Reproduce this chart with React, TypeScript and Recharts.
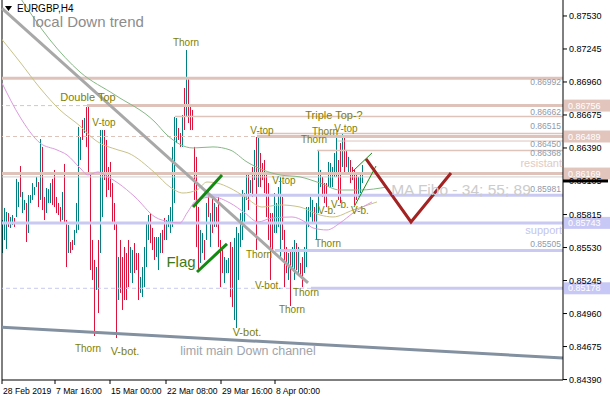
import React from 'react';
import { ComposedChart, Bar, Line, XAxis, YAxis, ReferenceLine, ReferenceDot } from 'recharts';

const FONT = '"Liberation Sans", Arial, sans-serif';
const TEAL = '#008080';
const RED = '#dc143c';
const RES = '#dfc3bb';
const SUP = '#c9c9f2';

// EURGBP H4 bars, oldest first
const highs = [
  0.85768, 0.85872, 0.85837, 0.85828, 0.85794, 0.85811, 0.85785, 0.86123, 0.86096, 0.86234,
  0.86010, 0.85941, 0.85915, 0.85984, 0.85984, 0.86087, 0.86053, 0.86140, 0.86096, 0.86467,
  0.86399, 0.85967, 0.86044, 0.86035, 0.86087, 0.86123, 0.86200, 0.85967, 0.85915, 0.85880,
  0.86010, 0.86252, 0.85768, 0.85725, 0.85578, 0.85595, 0.85682, 0.85915, 0.86572, 0.86485,
  0.86632, 0.86649, 0.86744, 0.86744, 0.86174, 0.85595, 0.85423, 0.85362, 0.85595, 0.86545,
  0.86545, 0.86545, 0.86459, 0.86226, 0.86269, 0.86087, 0.85915, 0.85742, 0.85448, 0.85595,
  0.85448, 0.85535, 0.85483, 0.85595, 0.85535, 0.85509, 0.85569, 0.85483, 0.85483, 0.85276,
  0.85362, 0.85535, 0.85742, 0.85811, 0.85828, 0.85699, 0.85621, 0.85621, 0.85621, 0.85656,
  0.85682, 0.85785, 0.85768, 0.85811, 0.85880, 0.86399, 0.86658, 0.86649, 0.86563, 0.86519,
  0.86675, 0.86908, 0.87236, 0.87003, 0.86744, 0.86718, 0.86399, 0.86313, 0.85880, 0.85682,
  0.85656, 0.85595, 0.85915, 0.86027, 0.85828, 0.85967, 0.85915, 0.85880, 0.85967, 0.85595,
  0.85509, 0.85448, 0.85423, 0.85440, 0.85578, 0.85535, 0.85613, 0.85708, 0.85656, 0.85828,
  0.86027, 0.86001, 0.86174, 0.86174, 0.86113, 0.86226, 0.86373, 0.86485, 0.86485, 0.86347,
  0.86260, 0.86286, 0.86174, 0.86087, 0.85828, 0.85828, 0.86001, 0.85915, 0.86053, 0.86140,
  0.85967, 0.85682, 0.85535, 0.85483, 0.85509, 0.85535, 0.85595, 0.85569, 0.85535, 0.85397,
  0.85448, 0.85535, 0.85880, 0.85880, 0.85967, 0.85941, 0.85880, 0.85915, 0.86373, 0.86200,
  0.86140, 0.86087, 0.86087, 0.86269, 0.86260, 0.86226, 0.86347, 0.86485, 0.86286, 0.86433,
  0.86519, 0.86485, 0.86373, 0.86313, 0.86286, 0.86226, 0.86200, 0.86174, 0.86140, 0.86174,
  0.86243,
];
const lows = [
  0.85483, 0.85595, 0.85518, 0.85708, 0.85699, 0.85725, 0.85708, 0.85794, 0.85880, 0.85967,
  0.85828, 0.85854, 0.85578, 0.85656, 0.85915, 0.85941, 0.85984, 0.86053, 0.85880, 0.85941,
  0.85854, 0.85768, 0.85828, 0.85915, 0.85915, 0.85898, 0.85880, 0.85828, 0.85811, 0.85751,
  0.85768, 0.85751, 0.85362, 0.85483, 0.85483, 0.85509, 0.85552, 0.85656, 0.85682, 0.86286,
  0.86459, 0.86519, 0.86399, 0.86174, 0.85336, 0.85250, 0.84766, 0.85164, 0.84965, 0.85483,
  0.85794, 0.86113, 0.85967, 0.86027, 0.85967, 0.85742, 0.85682, 0.84749, 0.85077, 0.85138,
  0.84991, 0.85077, 0.85077, 0.85189, 0.85310, 0.85224, 0.85310, 0.85336, 0.85077, 0.85138,
  0.85103, 0.85189, 0.85362, 0.85595, 0.85569, 0.85509, 0.85423, 0.85448, 0.85336, 0.85483,
  0.85483, 0.85595, 0.85595, 0.85708, 0.85656, 0.85708, 0.85915, 0.86433, 0.86459, 0.86399,
  0.86399, 0.86545, 0.86658, 0.86606, 0.86545, 0.86545, 0.85941, 0.85535, 0.85336, 0.85397,
  0.85483, 0.85423, 0.85595, 0.85794, 0.85535, 0.85656, 0.85708, 0.85708, 0.85535, 0.85189,
  0.85310, 0.85224, 0.85310, 0.85310, 0.85103, 0.85017, 0.84904, 0.84835, 0.85250, 0.85535,
  0.85595, 0.85708, 0.85941, 0.85854, 0.86001, 0.85967, 0.86113, 0.85509, 0.86053, 0.86053,
  0.86113, 0.86001, 0.85794, 0.85595, 0.85250, 0.85483, 0.85656, 0.85656, 0.85708, 0.85448,
  0.85595, 0.85189, 0.85310, 0.85250, 0.85025, 0.85362, 0.85250, 0.85336, 0.85310, 0.85276,
  0.85189, 0.85310, 0.85362, 0.85708, 0.85794, 0.85742, 0.85742, 0.85595, 0.85828, 0.86053,
  0.85967, 0.85915, 0.85880, 0.86053, 0.86053, 0.86053, 0.86140, 0.86140, 0.85941, 0.85915,
  0.86226, 0.86174, 0.86226, 0.86174, 0.86087, 0.86113, 0.85898, 0.85941, 0.85967, 0.86001,
  0.86087,
];
// u = bull bar, d = bear bar
const dirs =
  'uuuduuduud' + 'uuduuuuudu' + 'dduuuddddd' + 'uddudduuuu' + 'dudddddudu' +
  'udddddddud' + 'dddduudddu' + 'uuuuddduuu' + 'dduuuuuudd' + 'ududdddddu' +
  'ududududdd' + 'duuudduuuu' + 'uuudududud' + 'dddddduuuu' + 'ddduduudud' +
  'duuuuuduuu' + 'ddduuuuudd' + 'uddudddduuu';

// moving averages (bar index, price)
const ma89 = [
  [8, 0.87703], [23.5, 0.87323], [38.5, 0.87046], [56, 0.86848], [76, 0.86614], [82, 0.86502],
  [95, 0.8639], [105, 0.86399], [113.5, 0.86373], [122, 0.86269], [138.5, 0.86157], [148.5, 0.8614],
  [158.5, 0.86087], [168.5, 0.86027], [178.5, 0.86027], [192, 0.86053],
];
const ma55 = [
  [-1.5, 0.87348], [8.5, 0.87132], [18.5, 0.86908], [28.5, 0.86718], [38.5, 0.8658], [46, 0.86459],
  [57.5, 0.86373], [62.5, 0.86347], [76, 0.86174], [83.5, 0.86053], [90, 0.86001], [97, 0.86027],
  [102, 0.86096], [107, 0.86087], [113.5, 0.86044], [121, 0.85967], [129.5, 0.8588], [138.5, 0.85898],
  [148.5, 0.8588], [158.5, 0.85811], [165, 0.85794], [175, 0.85854], [187, 0.85924],
];
const ma34 = [
  [-0.5, 0.86951], [8.5, 0.86658], [18.5, 0.86433], [27, 0.86373], [32, 0.8633], [38.5, 0.86217],
  [42.5, 0.86157], [47.5, 0.86183], [52.5, 0.8614], [57.5, 0.86087], [66, 0.85967], [76, 0.85794],
  [83.5, 0.85751], [88.5, 0.85742], [92, 0.85828], [97, 0.85941], [105, 0.85967], [113.5, 0.85915],
  [121, 0.85828], [127.5, 0.85751], [134.5, 0.85785], [144.5, 0.85794], [151, 0.85751], [155, 0.85699],
  [162, 0.85682], [168.5, 0.85742], [175, 0.85828], [184.5, 0.85924],
];
const forecast = [[181.5, 0.86295], [204, 0.85751], [224, 0.86174]];

const Y_TICKS = [0.8753, 0.87245, 0.8696, 0.86675, 0.8639, 0.86105, 0.85815, 0.8553, 0.85245, 0.8496, 0.84675, 0.8439];
const X_TICKS = [-0.5, 26, 53.5, 81.5, 109, 136];
const X_LABELS = ['28 Feb 2019', '7 Mar 16:00', '15 Mar 00:00', '22 Mar 08:00', '29 Mar 16:00', '8 Apr 00:00'];

// horizontal levels: price, bar where the solid part starts, width, dashed guide across
const levels = [
  { p: 0.86992, from: -0.5, w: 3, c: RES },
  { p: 0.86756, from: 42, w: 3, c: RES, guide: true },
  { p: 0.86662, from: 86, w: 1.5, c: RES },
  { p: 0.86515, from: 127, w: 1.5, c: RES },
  { p: 0.86489, from: 127, w: 3, c: RES, guide: true },
  { p: 0.8645, from: 167, w: 1, c: RES },
  { p: 0.86368, from: 157, w: 1.5, c: RES },
  { p: 0.86169, from: -0.5, w: 3, c: RES },
  { p: 0.8614, from: -0.5, w: 1, c: '#cfcfcf' },
  { p: 0.85981, from: 100, w: 3, c: SUP },
  { p: 0.85743, from: -0.5, w: 3, c: SUP },
  { p: 0.85505, from: 136, w: 3, c: SUP },
  { p: 0.85178, from: 154, w: 3, c: SUP, guide: true },
];
const boxes = [
  { p: 0.86756, c: '#e2c6be' }, { p: 0.86489, c: '#e2c6be' }, { p: 0.86169, c: '#e2c6be' },
  { p: 0.85743, c: '#c8c8f6' }, { p: 0.85178, c: '#c8c8f6' },
];
// price tags written near the right edge, anchored just off their lines
const tags = [
  ['0.86992', 0.8696], ['0.86662', 0.86701], ['0.86515', 0.8658], ['0.86450', 0.86425],
  ['0.86368', 0.86347], ['0.85981', 0.86035], ['0.85505', 0.85561],
];

const OLIVE = '#7f7f00';
const notes = [
  { t: 'Thorn', i: 91.5, p: 0.87305 },
  { t: 'Double Top', i: 42.5, p: 0.8683, s: 11 },
  { t: 'V-top', i: 50.5, p: 0.86614 },
  { t: 'Thorn', i: 42.5, p: 0.84662 },
  { t: 'V-bot.', i: 61, p: 0.84637, s: 11 },
  { t: 'Flag', i: 89, p: 0.85405, s: 15, c: '#3c7a1a' },
  { t: 'V-top', i: 129.5, p: 0.86545 },
  { t: 'V-top', i: 140.5, p: 0.86113 },
  { t: 'Thorn', i: 128, p: 0.85466 },
  { t: 'V-bot.', i: 132.5, p: 0.85198 },
  { t: 'V-bot.', i: 122, p: 0.84801, s: 11 },
  { t: 'Thorn', i: 144.5, p: 0.84991 },
  { t: 'Thorn', i: 151.5, p: 0.85138 },
  { t: 'Thorn', i: 162.5, p: 0.85569 },
  { t: 'Thorn', i: 155.5, p: 0.86459 },
  { t: 'Thorn', i: 161, p: 0.86528 },
  { t: 'V-top', i: 171.5, p: 0.86554 },
  { t: 'Triple Top-?', i: 165.5, p: 0.86675, s: 11 },
  { t: 'V-b.', i: 162, p: 0.85854 },
  { t: 'V-b.', i: 168.5, p: 0.85898 },
  { t: 'V-b.', i: 178.5, p: 0.85854 },
  { t: 'local Down trend', i: 42.5, p: 0.87478, s: 15, c: '#8c8c8c' },
  { t: 'limit main Down channel', i: 122.5, p: 0.84637, s: 12.5, c: '#a0a4ac' },
  { t: 'MA Fibo - 34; 55; 89', i: 229, p: 0.86027, s: 15.5, c: '#cccccc' },
  { t: 'resistant', i: 279.5, p: 0.8626, s: 11, c: '#e2cac2', a: 'end' },
  { t: 'support', i: 279.5, p: 0.85682, s: 11, c: '#c4c4f0', a: 'end' },
];

const toPts = (arr: number[][]) => arr.map(([i, p]) => ({ i, p }));

const BarShape = (props: any) => {
  const { x, y, width, height, payload } = props;
  const cx = Math.round(x + width / 2 - 0.5);
  return <rect x={cx} y={y} width={1} height={Math.max(height, 1)} fill={payload.up ? TEAL : RED} />;
};

const DateTick = (props: any) => {
  const { x, y, index } = props;
  return (
    <text x={x + 1} y={y} dy={8} fontSize={8.6} fontFamily={FONT} fill="#000" textAnchor="start">
      {X_LABELS[index]}
    </text>
  );
};

export default function App() {
  const data = highs.map((h, i) => ({ i, range: [lows[i], h], up: dirs[i] === 'u' }));

  return (
    <div style={{ position: 'absolute', left: 0, top: 0, width: 610, height: 400, background: '#fff', fontFamily: FONT }}>
      <ComposedChart width={610} height={400} data={data} margin={{ top: 0, right: 0, bottom: 0, left: 2 }}>
        <XAxis dataKey="i" type="number" domain={[-0.5, 280]} allowDataOverflow ticks={X_TICKS} interval={0}
          height={20} stroke="#000" tickSize={4} tick={<DateTick />} />
        <YAxis orientation="right" type="number" domain={[0.84386, 0.87668]} allowDataOverflow ticks={Y_TICKS}
          interval={0} width={47} stroke="#000" tickSize={4} tickMargin={2}
          tickFormatter={(v: number) => v.toFixed(5)} tick={{ fontSize: 9, fill: '#000', fontFamily: FONT }} />

        <ReferenceLine x={-0.5} stroke="#000" />
        {levels.filter((l) => l.guide).map((l, k) => (
          <ReferenceLine key={'g' + k} y={l.p} stroke={l.c} strokeDasharray="4 3" />
        ))}
        {levels.map((l, k) => (
          <ReferenceLine key={'l' + k} segment={[{ x: l.from, y: l.p }, { x: 280, y: l.p }]} stroke={l.c} strokeWidth={l.w} />
        ))}

        <Line data={toPts(ma89)} dataKey="p" type="monotone" stroke="#86b886" dot={false} isAnimationActive={false} />
        <Line data={toPts(ma55)} dataKey="p" type="monotone" stroke="#c9c28a" dot={false} isAnimationActive={false} />
        <Line data={toPts(ma34)} dataKey="p" type="monotone" stroke="#dc9ade" dot={false} isAnimationActive={false} />

        <Bar dataKey="range" barSize={1} shape={<BarShape />} isAnimationActive={false} />

        <ReferenceLine segment={[{ x: -0.5, y: 0.87595 }, { x: 152.5, y: 0.85224 }]} stroke="#a8a8a8" strokeWidth={3} />
        <ReferenceLine segment={[{ x: -0.5, y: 0.84841 }, { x: 280, y: 0.84577 }]} stroke="#8390a0" strokeWidth={3} />
        <ReferenceLine segment={[{ x: 95, y: 0.8588 }, { x: 109.5, y: 0.86157 }]} stroke="#128a12" strokeWidth={3} />
        <ReferenceLine segment={[{ x: 97, y: 0.85319 }, { x: 112, y: 0.85561 }]} stroke="#128a12" strokeWidth={3} />
        <ReferenceLine segment={[{ x: 174.5, y: 0.86183 }, { x: 184.5, y: 0.86347 }]} stroke="#109010" />
        <ReferenceLine segment={[{ x: 175.5, y: 0.8588 }, { x: 186.5, y: 0.86234 }]} stroke="#109010" />
        <Line data={toPts(forecast)} dataKey="p" type="linear" stroke="#a32323" strokeWidth={3} dot={false} isAnimationActive={false} />

        {tags.map(([t, p], k) => (
          <ReferenceDot key={'t' + k} x={279} y={p as number} r={0} ifOverflow="visible"
            shape={(q: any) => (
              <text x={q.cx} y={q.cy} dy="0.35em" textAnchor="end" fontSize={8.5} fill="#8e9aab" fontFamily={FONT}>{t}</text>
            )} />
        ))}
        {notes.map((n, k) => (
          <ReferenceDot key={'n' + k} x={n.i} y={n.p} r={0} ifOverflow="visible"
            shape={(q: any) => (
              <text x={q.cx} y={q.cy} dy="0.35em" textAnchor={n.a || 'middle'} fontSize={n.s || 10}
                fill={n.c || OLIVE} fontFamily={FONT}>{n.t}</text>
            )} />
        ))}
        {boxes.map((b, k) => (
          <ReferenceDot key={'b' + k} x={280} y={b.p} r={0} ifOverflow="visible"
            shape={(q: any) => (
              <g>
                <rect x={q.cx + 1} y={q.cy - 6} width={46} height={12} fill={b.c} />
                <text x={q.cx + 5} y={q.cy} dy="0.35em" fontSize={9} fill="#fff" fontFamily={FONT}>{b.p.toFixed(5)}</text>
              </g>
            )} />
        ))}
        <ReferenceDot x={280} y={0.86105} r={0} ifOverflow="visible"
          shape={(q: any) => <rect x={q.cx} y={q.cy - 1.5} width={45} height={3} fill="#000" />} />
      </ComposedChart>
      <div style={{ position: 'absolute', left: 5, top: 3, display: 'flex', alignItems: 'center', fontSize: 10, color: '#000' }}>
        <svg width={7} height={5} style={{ marginRight: 5 }}>
          <polygon points="0,0 7,0 3.5,5" fill="#000" />
        </svg>
        EURGBP,H4
      </div>
    </div>
  );
}
